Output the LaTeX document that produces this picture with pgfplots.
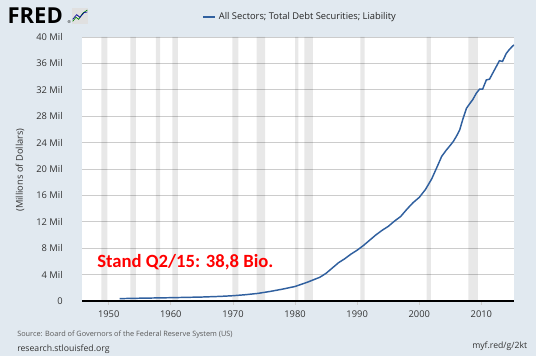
\documentclass[border=0pt]{standalone}
\usepackage{pgfplots}
\pgfplotsset{compat=1.18}
\usepackage{fontspec}
\setmainfont{Open Sans}
\newfontfamily\carlito{Carlito}
\definecolor{bg}{HTML}{E1E9F0}
\definecolor{gridc}{HTML}{CCCCCC}
\definecolor{lineblue}{HTML}{30609F}
\definecolor{txt}{HTML}{333333}
\begin{document}
\begin{tikzpicture}
\fill[bg] (0,0) rectangle (402pt,267pt);
\useasboundingbox (0,0) rectangle (402pt,267pt);
\begin{axis}[
  at={(61.5pt,41.25pt)}, anchor=south west,
  scale only axis, width=324pt, height=198pt,
  xmin=1945.7, xmax=2015.25, ymin=0, ymax=40,
  axis background/.style={fill=white},
  axis x line*=bottom, axis y line*=left,
  x axis line style={black, line width=1.2pt},
  y axis line style={draw=none},
  xtick={1950,1960,...,2010},
  ytick={0,4,...,40},
  yticklabels={0,4 Mil,8 Mil,12 Mil,16 Mil,20 Mil,24 Mil,28 Mil,32 Mil,36 Mil,40 Mil},
  ymajorgrids, grid style={gridc, line width=0.6pt},
  y tick style={draw=none},
  x tick style={gridc, line width=0.5pt},
  tick align=outside, major tick length=3pt,
  tick label style={font=\fontsize{7}{8}\selectfont, text=txt},
  yticklabel style={xshift=-8pt},
  xticklabel style={yshift=-1pt},
  /pgf/number format/assume math mode=true,
  /pgf/number format/1000 sep={},
]
\addplot[ybar interval, fill=black, fill opacity=0.09, draw=none] coordinates {
(1948.83,40) (1949.79,0) (1953.5,40) (1954.37,0) (1957.58,40) (1958.29,0)
(1960.25,40) (1961.12,0) (1969.92,40) (1970.87,0) (1973.83,40) (1975.2,0)
(1980.0,40) (1980.54,0) (1981.5,40) (1982.87,0) (1990.5,40) (1991.2,0)
(2001.17,40) (2001.87,0) (2007.92,40) (2009.45,0) (2015.25,0)};
\addplot[lineblue, line width=1.1pt] coordinates {
(1951.75,0.36) (1955,0.42) (1960,0.50) (1965,0.60) (1968,0.70) (1970,0.80)
(1972,0.95) (1974,1.15) (1976,1.45) (1978,1.80) (1980,2.20) (1982,2.85)
(1984,3.60) (1985,4.20) (1986,5.0) (1987,5.8) (1988,6.4) (1989,7.1)
(1990,7.7) (1991,8.4) (1992,9.2) (1993,10.0) (1994,10.7) (1995,11.3)
(1996,12.1) (1997,12.8) (1998,13.9) (1999,14.9) (2000,15.7) (2001,16.9)
(2002,18.5) (2003,20.6) (2003.6,21.9) (2004.3,22.8) (2005.0,23.6) (2005.5,24.2)
(2006,25.0) (2006.5,25.9) (2007,27.5) (2007.6,29.2) (2008.2,30.0)
(2008.6,30.5) (2009.2,31.5) (2009.7,32.1) (2010.2,32.1) (2010.8,33.5)
(2011.3,33.6) (2012.1,35.0) (2012.9,36.4) (2013.4,36.3) (2014.0,37.5)
(2014.5,38.1) (2015.0,38.6) (2015.25,38.8)};
\end{axis}
% y label
\node[rotate=90, text=txt, font=\fontsize{7}{8}\selectfont] at (15pt,139.5pt) {(Millions of Dollars)};
% legend
\draw[lineblue, line width=1.1pt] (152.25pt,254.25pt) -- (161.25pt,254.25pt);
\node[anchor=west, text=black!85, font=\fontsize{7}{8}\selectfont, inner sep=0pt] at (164pt,254.25pt) {All Sectors; Total Debt Securities; Liability};
% FRED logo
\node[anchor=west, inner sep=0pt, font=\fontsize{16.5}{17}\selectfont\bfseries] at (5.5pt,255pt) {FRED};
\node[anchor=south west, inner sep=0pt, font=\fontsize{3}{3}\selectfont] at (50.5pt,249pt) {\textregistered};
\fill[black!12] (54pt,249pt) rectangle (66pt,261pt);
\draw[green!50!black, line width=0.5pt] (54.5pt,251pt) -- (57pt,254pt) -- (59pt,252.5pt) -- (62pt,257pt) -- (65.5pt,259.5pt);
\draw[blue!60!black, line width=0.5pt] (54.5pt,252.5pt) -- (57.5pt,256pt) -- (60pt,254pt) -- (63pt,257.5pt) -- (65.5pt,258pt);
% annotation
\node[anchor=west, inner sep=0pt, text=red, font=\carlito\bfseries\fontsize{14}{15}\selectfont] at (72.75pt,70.5pt) {Stand Q2/15: 38,8 Bio.};
% footer
\node[anchor=west, inner sep=0pt, text=black!65, font=\fontsize{5.5}{6}\selectfont] at (12.75pt,15.75pt) {Source: Board of Governors of the Federal Reserve System (US)};
\node[anchor=west, inner sep=0pt, text=txt, font=\fontsize{6.5}{7}\selectfont] at (12.75pt,5.25pt) {research.stlouisfed.org};
\node[anchor=west, inner sep=0pt, text=txt, font=\fontsize{6.5}{7}\selectfont] at (354pt,7.5pt) {myf.red/g/2kt};
\end{tikzpicture}
\end{document}
